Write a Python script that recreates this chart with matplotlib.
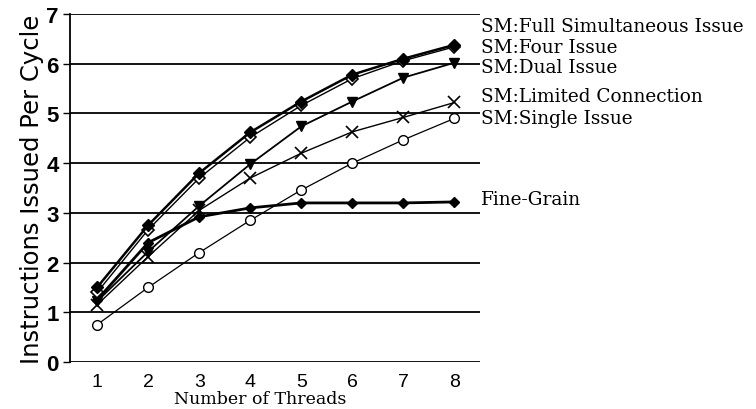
import matplotlib
matplotlib.use('Agg')
import matplotlib.pyplot as plt

threads = [1, 2, 3, 4, 5, 6, 7, 8]
ticks_y = [0, 1, 2, 3, 4, 5, 6, 7]

full_simul = [1.5, 2.75, 3.8, 4.62, 5.24, 5.78, 6.1, 6.38]
four_issue = [1.4, 2.66, 3.7, 4.52, 5.16, 5.7, 6.06, 6.34]
dual_issue = [1.22, 2.22, 3.14, 3.98, 4.74, 5.24, 5.72, 6.02]
limited_conn = [1.15, 2.12, 3.05, 3.7, 4.2, 4.63, 4.92, 5.22]
single_issue = [0.75, 1.5, 2.2, 2.85, 3.46, 4.0, 4.47, 4.9]
fine_grain = [1.25, 2.4, 2.92, 3.1, 3.2, 3.2, 3.2, 3.22]

label_names = ['SM:Full Simultaneous Issue', 'SM:Four Issue', 'SM:Dual Issue',
               'SM:Limited Connection', 'SM:Single Issue', 'Fine-Grain']
label_y = [6.75, 6.33, 5.93, 5.35, 4.9, 3.28]

fig = plt.figure(figsize=(7.56, 4.10), dpi=100)
ax = fig.add_axes([0.0926, 0.1146, 0.5423, 0.8488])

ax.plot(threads, single_issue, color='black', lw=0.9, marker='o', ms=7,
        mfc='white', mec='black', mew=1.0)
ax.plot(threads, fine_grain, color='black', lw=2.0, marker='D', ms=5,
        mfc='black', mec='black')
ax.plot(threads, limited_conn, color='black', lw=1.0, marker='x', ms=8, mew=1.2)
ax.plot(threads, dual_issue, color='black', lw=1.3, marker='v', ms=7,
        mfc='black', mec='black')
ax.plot(threads, four_issue, color='black', lw=1.0, marker='D', ms=6,
        mfc='white', mec='black', mew=1.2)
ax.plot(threads, full_simul, color='black', lw=1.8, marker='D', ms=6,
        mfc='black', mec='black')

# series names written at the right end instead of a legend
for name, yv in zip(label_names, label_y):
    ax.text(8.52, yv, name, fontsize=13.3, family='DejaVu Serif',
            va='center', ha='left', clip_on=False)

ax.set_xlim(0.47, 8.5)
ax.set_ylim(0, 7)
ax.set_yticks(ticks_y)
ax.set_xticks(threads)
ax.yaxis.grid(True, color='black', lw=1.3)
ax.set_axisbelow(True)
for s in ['top', 'right', 'bottom']:
    ax.spines[s].set_visible(False)
ax.spines['left'].set_linewidth(1.3)

ax.tick_params(axis='y', length=5, width=1, labelsize=16, pad=3)
ax.tick_params(axis='x', length=0, labelsize=14, pad=8)
for t in ax.get_yticklabels():
    t.set_fontweight('bold')
    t.set_family('Liberation Sans')
for t in ax.get_xticklabels():
    t.set_family('Liberation Sans')

ax.set_ylabel('Instructions Issued Per Cycle', fontsize=17.5,
              family='DejaVu Sans', labelpad=2)
ax.set_xlabel('Number of Threads', fontsize=12.5, family='DejaVu Serif',
              labelpad=0)
ax.xaxis.set_label_coords(0.463, -0.08)

fig.savefig('out.png', dpi=100)
